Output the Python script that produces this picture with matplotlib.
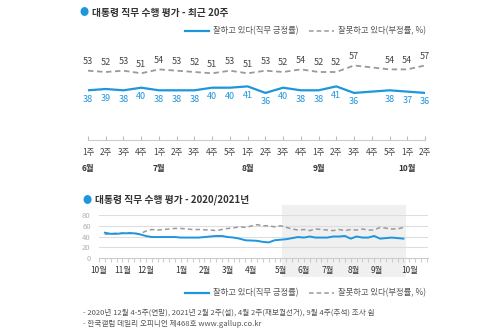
import numpy as np
import matplotlib
matplotlib.use("Agg")
import matplotlib.pyplot as plt
from matplotlib.lines import Line2D
from matplotlib.patches import Rectangle

plt.rcParams['font.family'] = ['Noto Sans CJK KR', 'DejaVu Sans']

# ---- recent 20 weeks (top chart) ----
week_labels = ["1주", "2주", "3주", "4주",
               "1주", "2주", "3주", "4주", "5주",
               "1주", "2주", "3주", "4주",
               "1주", "2주", "3주", "4주", "5주",
               "1주", "2주"]
month_names = ["6월", "7월", "8월", "9월", "10월"]
month_first = [0, 4, 9, 13, 18]
approve_20 = [38, 39, 38, 40, 38, 38, 38, 40, 40, 41,
              36, 40, 38, 38, 41, 36, np.nan, 38, 37, 36]
disapprove_20 = [53, 52, 53, 51, 54, 53, 52, 51, 53, 51,
                 53, 52, 54, 52, 52, 57, np.nan, 54, 54, 57]

# ---- 2020/2021 weekly (bottom chart), weeks before the recent 20 ----
approve_early = [np.nan, 47, 45, 45, 46, 46, 46, 44, 41, 39, 39,
                 np.nan, np.nan,
                 39, 38, 38, 38, 38,
                 np.nan,
                 40, 41, 41, 39, 38, 36, 33,
                 np.nan,
                 32, 30, 29, 33, 34, 35, 37]
disapprove_early = [np.nan, 44, 45, 46, 46, 47, 46, 45, 50, 53, 52,
                    np.nan, np.nan,
                    55, 55, 54, 53, 53,
                    np.nan,
                    52, 51, 53, 55, 56, 58, 57,
                    np.nan,
                    62, 60, 60, 58, 60, 57, 54]
year_months = ["10월", "11월", "12월", "1월", "2월", "3월", "4월",
               "5월", "6월", "7월", "8월", "9월", "10월"]
year_month_first = [0, 4, 8, 14, 18, 22, 26, 31, 35, 39, 43.5, 47.5, 53]

approve_year = np.array(approve_early + approve_20[1:], dtype=float)
disapprove_year = np.array(disapprove_early + disapprove_20[1:], dtype=float)

BLUE = "#1e96dc"
GRAY = "#9a9a9a"
TXT = "#444444"

W, H = 500, 333
fig = plt.figure(figsize=(5, 3.33), dpi=100)


def fx(px):
    return px / W


def fy(py):
    return 1 - py / H


def masked_line(ax, y, **kw):
    y = np.asarray(y, dtype=float)
    x = np.arange(len(y))
    ok = ~np.isnan(y)
    ax.plot(x[ok], y[ok], **kw)


def legend_row(ypx):
    fig.add_artist(Line2D([fx(185), fx(209)], [fy(ypx), fy(ypx)],
                          color=BLUE, lw=1.6, transform=fig.transFigure))
    fig.text(fx(213), fy(ypx), "잘하고 있다(직무 긍정률)", fontsize=6,
             color="#555555", va="center")
    fig.add_artist(Line2D([fx(309), fx(334)], [fy(ypx), fy(ypx)],
                          color=GRAY, lw=1.1, ls=(0, (3, 2)),
                          transform=fig.transFigure))
    fig.text(fx(338), fy(ypx), "잘못하고 있다(부정률, %)", fontsize=6,
             color="#555555", va="center")


def title(xpx, ypx, s):
    fig.text(fx(xpx), fy(ypx), "●", fontsize=6.5, color=BLUE,
             va="center", ha="center")
    fig.text(fx(xpx + 8), fy(ypx), s, fontsize=7, color="#333333",
             va="center", fontweight="bold")


# ---------------- top chart ----------------
title(84, 13, "대통령 직무 수행 평가 - 최근 20주")
legend_row(31)

ax1 = fig.add_axes([fx(88), fy(140), fx(425) - fx(88), 80 * 1.3077 / H])
ax1.set_xlim(0, len(week_labels) - 1)
ax1.set_ylim(0, 80)
masked_line(ax1, disapprove_20, color=GRAY, lw=1.3, ls=(0, (3, 2)))
masked_line(ax1, approve_20, color=BLUE, lw=1.6)
for i, (a, d) in enumerate(zip(approve_20, disapprove_20)):
    if not np.isnan(d):
        ax1.annotate(f"{d:.0f}", (i, d), xytext=(0, 6.5), textcoords="offset points",
                     ha="center", va="center", fontsize=6.5, color=TXT)
    if not np.isnan(a):
        ax1.annotate(f"{a:.0f}", (i, a), xytext=(0, -6.5), textcoords="offset points",
                     ha="center", va="center", fontsize=6.5, color=BLUE)
for s in ["top", "left", "right"]:
    ax1.spines[s].set_visible(False)
ax1.spines["bottom"].set_color("#cccccc")
ax1.set_yticks([])
ax1.set_xticks(range(len(week_labels)))
ax1.set_xticklabels(week_labels)
ax1.tick_params(axis="x", direction="in", length=3, color="#bbbbbb",
                labelsize=6, labelcolor=TXT, pad=6)
for name, pos in zip(month_names, month_first):
    ax1.text(pos, -0.27, name, transform=ax1.get_xaxis_transform(),
             ha="center", va="center", fontsize=6, color="#333333",
             fontweight="bold")

# ---------------- bottom chart ----------------
title(87, 200, "대통령 직무 수행 평가 - 2020/2021년")

ax2 = fig.add_axes([fx(99), fy(258), fx(428) - fx(99), 43 / H])
ax2.set_xlim(0, 56.2)
ax2.set_ylim(0, 80)
start20 = len(approve_year) - len(approve_20)
ax2.add_patch(Rectangle((start20 - 1.7, -0.44), len(approve_20) + 1.1, 1.67,
                        transform=ax2.get_xaxis_transform(), clip_on=False,
                        facecolor="#f0f0f0", edgecolor="none", zorder=0))
for v in [20, 40, 60, 80]:
    ax2.axhline(v, color="#dddddd", lw=0.8, zorder=1)
masked_line(ax2, disapprove_year, color=GRAY, lw=1.1, ls=(0, (3, 2)), zorder=3)
masked_line(ax2, approve_year, color=BLUE, lw=1.4, zorder=4)
for s in ["top", "left", "right"]:
    ax2.spines[s].set_visible(False)
ax2.spines["bottom"].set_color("#cccccc")
ax2.set_facecolor("none")
ax2.set_yticks([0, 20, 40, 60, 80])
ax2.tick_params(axis="y", length=0, labelsize=5.5, labelcolor="#b0b0b0", pad=6)
ax2.set_xticks(np.arange(0, 57))
ax2.set_xticklabels([])
ax2.tick_params(axis="x", direction="out", length=3, color="#cccccc")
for name, pos in zip(year_months, year_month_first):
    ax2.text(pos, -0.28, name, transform=ax2.get_xaxis_transform(),
             ha="center", va="center", fontsize=6, color="#333333")

legend_row(293)
fig.text(fx(83), fy(313), "- 2020년 12월 4-5주(연말), 2021년 2월 2주(설), 4월 2주(재보궐선거), "
         "9월 4주(추석) 조사 쉼", fontsize=5.5, color="#555555", va="center")
fig.text(fx(83), fy(324), "- 한국갤럽 데일리 오피니언 제468호 www.gallup.co.kr",
         fontsize=5.5, color="#555555", va="center")

fig.savefig("out.png", dpi=100)
